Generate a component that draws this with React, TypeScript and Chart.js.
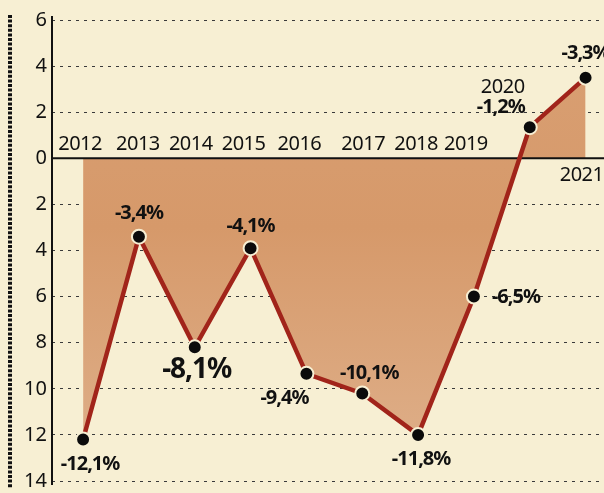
import React, { useEffect, useRef } from 'react';
import { Chart, registerables } from 'chart.js';
Chart.register(...registerables);

// ---- data ----
const years = ['2012', '2013', '2014', '2015', '2016', '2017', '2018', '2019', '2020', '2021'];
const values = [-12.2, -3.4, -8.2, -3.9, -9.35, -10.2, -12.0, -6.0, 1.35, 3.5];
const valueLabels = ['-12,1%', '-3,4%', '-8,1%', '-4,1%', '-9,4%', '-10,1%', '-11,8%', '-6,5%', '-1,2%', '-3,3%'];
const yMin = -14;
const yMax = 6;
const yStep = 2;

// ---- layout (offsets in px relative to points / zero line) ----
const labelOffsets = [[7, 25], [0, -23], [2, 23], [0, -22], [-22, 24], [7, -20], [3, 24], [42, 1], [-29, -20], [0, -24]];
const labelSizes = [20, 20, 28, 20, 20, 20, 20, 20, 20, 20];
const yearOffsets = [[-3, -14], [-1, -14], [-4, -14], [-7, -14], [-7, -14], [1, -14], [-2, -14], [-8, -14], [-27, -71], [-4, 17]];

const BG = '#f7efd3';
const FONT = '"Noto Sans", "Open Sans", sans-serif';

export default function App() {
  const ref = useRef<HTMLCanvasElement | null>(null);
  useEffect(() => {
    document.body.style.margin = '0';
    const canvas = ref.current!;
    const deco = {
      id: 'deco',
      beforeDraw(chart: any) {
        const ctx = chart.ctx;
        ctx.save();
        ctx.fillStyle = BG;
        ctx.fillRect(0, 0, chart.width, chart.height);
        ctx.strokeStyle = '#111';
        ctx.lineWidth = 4;
        ctx.setLineDash([3, 1.6]);
        ctx.beginPath();
        ctx.moveTo(10, 15);
        ctx.lineTo(10, 488);
        ctx.stroke();
        ctx.restore();
      },
      beforeDatasetsDraw(chart: any) {
        const ctx = chart.ctx;
        const y = chart.scales.y;
        const area = chart.chartArea;
        const y0 = y.getPixelForValue(0);
        ctx.save();
        ctx.strokeStyle = '#111';
        ctx.lineWidth = 2;
        ctx.beginPath();
        ctx.moveTo(area.left, y0);
        ctx.lineTo(chart.width, y0);
        ctx.stroke();
        ctx.beginPath();
        ctx.moveTo(area.left, area.top - 4);
        ctx.lineTo(area.left, area.bottom + 4);
        ctx.stroke();
        ctx.restore();
      },
      afterDatasetsDraw(chart: any) {
        const ctx = chart.ctx;
        const xs = chart.scales.x;
        const ys = chart.scales.y;
        const y0 = ys.getPixelForValue(0);
        ctx.save();
        ctx.textAlign = 'center';
        ctx.textBaseline = 'middle';
        ctx.fillStyle = '#111';
        years.forEach((yr, i) => {
          const px = xs.getPixelForValue(i);
          ctx.font = `400 20px ${FONT}`;
          (ctx as any).letterSpacing = '-0.5px';
          ctx.fillText(yr, px + yearOffsets[i][0], y0 + yearOffsets[i][1]);
        });
        values.forEach((v, i) => {
          const px = xs.getPixelForValue(i);
          const py = ys.getPixelForValue(v);
          ctx.font = `700 ${labelSizes[i]}px ${FONT}`;
          (ctx as any).letterSpacing = '-1px';
          ctx.fillText(valueLabels[i], px + labelOffsets[i][0], py + labelOffsets[i][1]);
        });
        ctx.restore();
      },
    };

    const chart = new Chart(canvas, {
      type: 'line',
      data: {
        datasets: [
          {
            data: values.map((v, i) => ({ x: i, y: v })),
            borderColor: '#a1241a',
            borderWidth: 4.5,
            pointRadius: 7,
            pointHoverRadius: 7,
            pointBackgroundColor: '#0b0b0b',
            pointBorderColor: BG,
            pointBorderWidth: 2,
            tension: 0,
            fill: 'origin',
            backgroundColor: (c: any) => {
              const ch = c.chart;
              const a = ch.chartArea;
              if (!a) return '#d9a379';
              const g = ch.ctx.createLinearGradient(0, a.top, 0, a.bottom);
              g.addColorStop(0, '#d9a074');
              g.addColorStop(0.45, '#d6996a');
              g.addColorStop(1, '#dfb18c');
              return g;
            },
          },
        ],
      },
      options: {
        animation: false,
        responsive: false,
        events: [],
        layout: { autoPadding: false, padding: { top: 20, bottom: 12, left: 0, right: 0 } },
        plugins: {
          legend: { display: false },
          tooltip: { enabled: false },
          filler: { drawTime: 'beforeDatasetsDraw' },
        } as any,
        scales: {
          x: { type: 'linear', min: -0.557, max: 9.33, display: false },
          y: {
            type: 'linear',
            min: yMin,
            max: yMax,
            afterFit: (s: any) => {
              s.width = 52;
              s.paddingTop = 0;
              s.paddingBottom = 0;
              s.paddingLeft = 0;
              s.paddingRight = 0;
            },
            ticks: {
              stepSize: yStep,
              callback: (v: any) => String(Math.abs(Number(v))),
              font: { size: 20, family: FONT },
              color: '#111',
              padding: 5,
            },
            grid: {
              color: (c: any) => (c.tick && c.tick.value === 0 ? 'rgba(0,0,0,0)' : '#3a3a3a'),
              lineWidth: 1,
              drawTicks: false,
            },
            border: { display: false, dash: [3, 5] },
          },
        },
      } as any,
      plugins: [deco],
    });
    return () => chart.destroy();
  }, []);
  return (
    <div style={{ width: 604, height: 493 }}>
      <canvas ref={ref} width={604} height={493} style={{ display: 'block' }} />
    </div>
  );
}
